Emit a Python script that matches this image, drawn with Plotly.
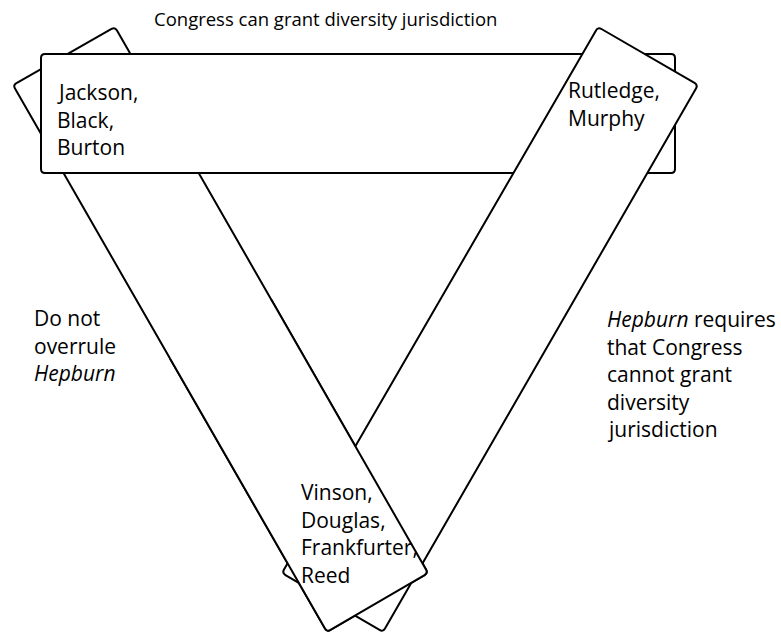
import plotly.graph_objects as go

# ---- data (pixel geometry of the diagram) ----
left_band = [(13, 85), (115, 27), (428, 573), (327, 632)]
right_band = [(598, 27), (698, 85), (383, 632), (282, 573)]
top_band = [(41, 54), (675, 54), (675, 173), (41, 173)]

title_text = ["Congress can grant diversity jurisdiction"]
title_pos = [(325, 18)]

group_labels = [
    (["Jackson,", "Black,", "Burton"], 58, 92),
    (["Rutledge,", "Murphy"], 569, 90),
    (["Vinson,", "Douglas,", "Frankfurter,", "Reed"], 302, 492),
    (["Do not", "overrule", "<i>Hepburn</i>"], 35, 318),
    (["<i>Hepburn</i> requires", "that Congress", "cannot grant", "diversity", "jurisdiction"], 608, 319),
]
line_step = 27.5

FONT = "Open Sans"
TITLE_SIZE = 18.5
FSIZE = 21
R = 4
TEXT_PAD = 3


def toward(a, b, d):
    dx, dy = b[0] - a[0], b[1] - a[1]
    L = (dx * dx + dy * dy) ** 0.5
    return (a[0] + dx * d / L, a[1] + dy * d / L)


def rounded_path(pts, r=R):
    n = len(pts)
    segs = []
    for i in range(n):
        p = pts[i]
        a = toward(p, pts[i - 1], r)
        b = toward(p, pts[(i + 1) % n], r)
        segs.append(("M" if i == 0 else "L") + f"{a[0]:.2f},{a[1]:.2f}")
        segs.append(f"Q{p[0]:.2f},{p[1]:.2f} {b[0]:.2f},{b[1]:.2f}")
    segs.append("Z")
    return " ".join(segs)


def open_path(pts_list, r=R, close=False):
    segs = [f"M{pts_list[0][0]:.2f},{pts_list[0][1]:.2f}"]
    for i in range(1, len(pts_list) - 1):
        p = pts_list[i]
        a = toward(p, pts_list[i - 1], r)
        b = toward(p, pts_list[i + 1], r)
        segs.append(f"L{a[0]:.2f},{a[1]:.2f}")
        segs.append(f"Q{p[0]:.2f},{p[1]:.2f} {b[0]:.2f},{b[1]:.2f}")
    segs.append(f"L{pts_list[-1][0]:.2f},{pts_list[-1][1]:.2f}")
    if close:
        segs.append("Z")
    return " ".join(segs)


line_style = dict(color="black", width=2)
shapes = []
for band in (left_band, top_band, right_band):
    shapes.append(dict(type="path", xref="x", yref="y", path=rounded_path(band),
                       fillcolor="white", line=line_style, layer="above"))

# bottom part of the left band passes over the right band
P0, P1, P2, P3 = left_band
s = 0.5
Q0 = (P0[0] + s * (P3[0] - P0[0]), P0[1] + s * (P3[1] - P0[1]))
Q1 = (P1[0] + s * (P2[0] - P1[0]), P1[1] + s * (P2[1] - P1[1]))
shapes.append(dict(type="path", xref="x", yref="y",
                   path=open_path([Q0, Q1, P2, P3, Q0], close=True),
                   fillcolor="white", line=dict(width=0), layer="above"))
shapes.append(dict(type="path", xref="x", yref="y", path=open_path([Q1, P2, P3, Q0]),
                   fillcolor="rgba(0,0,0,0)", line=line_style, layer="above"))

annotations = []
for t, (x, y) in zip(title_text, title_pos):
    annotations.append(dict(x=x, y=y, xref="x", yref="y", text=t, showarrow=False,
                            xanchor="center", yanchor="middle",
                            font=dict(family=FONT, size=TITLE_SIZE, color="black")))
for lines, x, y in group_labels:
    for k, t in enumerate(lines):
        annotations.append(dict(x=x - TEXT_PAD, y=y + k * line_step, xref="x", yref="y", text=t,
                                showarrow=False, xanchor="left", yanchor="middle",
                                font=dict(family=FONT, size=FSIZE, color="black")))

fig = go.Figure()
fig.add_trace(go.Scatter(x=[0, 781], y=[0, 635], mode="markers",
                         marker=dict(opacity=0), hoverinfo="skip", showlegend=False))
fig.update_layout(
    width=781, height=635,
    margin=dict(l=0, r=0, t=0, b=0),
    paper_bgcolor="white", plot_bgcolor="white",
    xaxis=dict(range=[0, 781], visible=False, fixedrange=True),
    yaxis=dict(range=[635, 0], visible=False, fixedrange=True),
    shapes=shapes, annotations=annotations, showlegend=False,
)
fig.write_html("out.html", config={"displayModeBar": False},
               post_script="document.body.style.margin='0';document.body.style.overflow='hidden';")
